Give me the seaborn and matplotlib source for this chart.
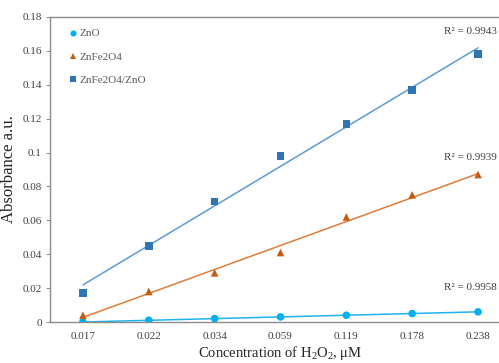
import matplotlib
matplotlib.use('Agg')
import matplotlib.pyplot as plt
import numpy as np
import pandas as pd
import seaborn as sns

concentrations = ['0.017', '0.022', '0.034', '0.059', '0.119', '0.178', '0.238']
series_names = ['ZnO', 'ZnFe2O4', 'ZnFe2O4/ZnO']
zno = [0.0, 0.001, 0.002, 0.003, 0.004, 0.005, 0.006]
znfe2o4 = [0.004, 0.018, 0.029, 0.041, 0.062, 0.075, 0.087]
composite = [0.017, 0.045, 0.071, 0.098, 0.117, 0.137, 0.158]
r2_values = ['0.9958', '0.9939', '0.9943']
y_ticks = [0, 0.02, 0.04, 0.06, 0.08, 0.1, 0.12, 0.14, 0.16, 0.18]

sns.set_theme(style='white')
plt.rcParams['font.family'] = ['Liberation Serif', 'DejaVu Serif']
plt.rcParams['mathtext.fontset'] = 'custom'
plt.rcParams['mathtext.rm'] = 'Liberation Serif'

rows = []
for name, vals in zip(series_names, [zno, znfe2o4, composite]):
    for i, (c, v) in enumerate(zip(concentrations, vals)):
        rows.append({'series': name, 'idx': i, 'conc': c, 'absorbance': v})
df = pd.DataFrame(rows)

marker_colors = {'ZnO': '#00B0F0', 'ZnFe2O4': '#C55A11', 'ZnFe2O4/ZnO': '#2E75B6'}
line_colors = {'ZnO': '#1EB4F0', 'ZnFe2O4': '#E07B39', 'ZnFe2O4/ZnO': '#5B9BD5'}
markers = {'ZnO': 'o', 'ZnFe2O4': '^', 'ZnFe2O4/ZnO': 's'}
label_y = {'ZnO': 0.0177, 'ZnFe2O4': 0.0945, 'ZnFe2O4/ZnO': 0.1685}

fig = plt.figure(figsize=(4.99, 3.63), dpi=100)
ax = fig.add_axes([50 / 499, 1 - 322 / 363, 461 / 499, 305 / 363])

# linear trendlines (excel style)
for name, r2 in zip(series_names, r2_values):
    sub = df[df.series == name]
    k, b = np.polyfit(sub.idx, sub.absorbance, 1)
    xs = np.array([sub.idx.min(), sub.idx.max()])
    ax.plot(xs, k * xs + b, color=line_colors[name], lw=1.1, zorder=2)
    ax.text(sub.idx.max() + 0.28, label_y[name], f'R² = {r2}', ha='right', va='bottom',
            fontsize=8, color='#404040')

sns.scatterplot(data=df, x='idx', y='absorbance', hue='series', style='series',
                palette=marker_colors, markers=markers, s=30, linewidth=0,
                ax=ax, zorder=3)

ax.set_xlim(-0.5, 6.5)
ax.set_ylim(0, 0.18)
ax.set_xticks(range(len(concentrations)))
ax.set_xticklabels(concentrations)
ax.set_yticks(y_ticks)
ax.set_yticklabels([f'{t:g}' for t in y_ticks])
ax.tick_params(axis='both', labelsize=8, colors='#404040', pad=7)
ax.tick_params(axis='y', length=3, width=0.6, direction='out', left=True, color='#808080', pad=3)
ax.tick_params(axis='x', length=0)
for s in ['left', 'top', 'bottom']:
    ax.spines[s].set_color('#8c8c8c')
    ax.spines[s].set_linewidth(1.0)
ax.spines['right'].set_visible(False)

ax.set_xlabel(r'Concentration of $\mathregular{H_2O_2}$, μM', fontsize=10.5, color='#222222', labelpad=2)
ax.set_ylabel('Absorbance a.u.', fontsize=12, color='#222222', labelpad=4)

leg = ax.legend(loc='upper left', frameon=False, fontsize=8, handletextpad=-0.4,
                labelspacing=1.2, borderaxespad=0.65, markerscale=0.8, title=None)
for t in leg.get_texts():
    t.set_color('#595959')

fig.savefig('out.png', dpi=100)
